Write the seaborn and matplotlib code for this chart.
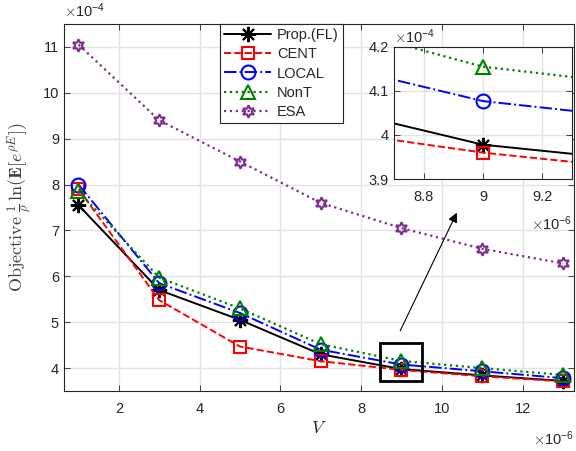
import matplotlib
matplotlib.use("Agg")
import matplotlib.pyplot as plt
import matplotlib.patches as patches
import seaborn as sns
import pandas as pd

# values (x in 1e-6, objective in 1e-4)
V = [1, 3, 5, 7, 9, 11, 13]
prop = [7.55, 5.70, 5.05, 4.30, 3.978, 3.84, 3.72]
cent = [7.90, 5.48, 4.47, 4.15, 3.96, 3.82, 3.71]
local = [8.00, 5.85, 5.20, 4.40, 4.077, 3.93, 3.78]
nont = [7.85, 5.97, 5.30, 4.52, 4.155, 4.00, 3.85]
esa = [11.05, 9.40, 8.50, 7.60, 7.05, 6.60, 6.28]

labels = ["Prop.(FL)", "CENT", "LOCAL", "NonT", "ESA"]
series = [prop, cent, local, nont, esa]
colors = ["black", "#FF0000", "#0000FF", "#008000", "#7E2F8E"]
markers = [(8, 2, 0), "s", "o", "^", (6, 1, 0)]
msizes = [11, 8, 10, 10, 9]
lstyles = ["-", "--", "-.", ":", ":"]

main_xticks = [2, 4, 6, 8, 10, 12]
main_yticks = [4, 5, 6, 7, 8, 9, 10, 11]
inset_xticks = [8.8, 9, 9.2]
inset_yticks = [3.9, 4, 4.1, 4.2]

sns.set_style("whitegrid")
plt.rcParams["font.family"] = ["Liberation Sans", "DejaVu Sans"]
plt.rcParams["mathtext.fontset"] = "cm"
plt.rcParams["xtick.direction"] = "in"
plt.rcParams["ytick.direction"] = "in"

txt = "#262626"
fig = plt.figure(figsize=(5.76, 4.51), dpi=100)
ax = fig.add_axes([0.111, 0.133, 0.886, 0.814])


def draw(a):
    for y, lab, c, m, ms, ls in zip(series, labels, colors, markers, msizes, lstyles):
        df = pd.DataFrame({"V": V, "obj": y})
        sns.lineplot(data=df, x="V", y="obj", ax=a, color=c, marker=m,
                     markersize=ms, linestyle=ls, linewidth=1.4 if ls != ":" else 1.6,
                     markerfacecolor="none", markeredgecolor=c,
                     markeredgewidth=1.5, label=lab)
    a.grid(True, color="#e3e3e3", linewidth=1.0)
    for s in a.spines.values():
        s.set_color(txt)
        s.set_linewidth(0.8)
    a.tick_params(colors=txt, labelsize=10.5, length=4, width=0.6,
                  top=True, right=True, left=True, bottom=True)
    a.tick_params(axis="x", pad=8)
    a.set_xlabel("")
    a.set_ylabel("")


draw(ax)
ax.set_xlim(0.64, 13.28)
ax.set_ylim(3.5, 11.5)
ax.set_xticks(main_xticks)
ax.set_yticks(main_yticks)
ax.set_xlabel("$V$", fontsize=13, color=txt, labelpad=3)
ax.set_ylabel(r"$\mathrm{Objective}\ \frac{1}{\rho}\,\ln(\mathbf{E}[e^{\rho E}])$",
              fontsize=13, color="#404040", labelpad=6)
ax.text(0.0, 1.01, r"$\times\mathregular{10^{-4}}$", transform=ax.transAxes,
        fontsize=10.5, color=txt, va="bottom", ha="left")
ax.text(1.0, -0.105, r"$\times\mathregular{10^{-6}}$", transform=ax.transAxes,
        fontsize=10.5, color=txt, va="top", ha="right")

ax.add_patch(patches.Rectangle((8.47, 3.72), 1.03, 0.82, fill=False,
                               edgecolor="black", linewidth=2, zorder=5))
ax.annotate("", xy=(10.4, 7.44), xytext=(8.94, 4.76),
            arrowprops=dict(arrowstyle="-|>", color="black", lw=0.8,
                            mutation_scale=14), zorder=5)

leg = ax.legend(loc="upper left", bbox_to_anchor=(220 / 576, 1 - 24 / 451),
                bbox_transform=fig.transFigure, fontsize=10.5, frameon=True,
                fancybox=False, framealpha=1, edgecolor=txt, borderaxespad=0,
                handlelength=3.2, labelspacing=0.35, borderpad=0.3,
                handletextpad=0.4)
leg.get_frame().set_linewidth(0.8)

ins = fig.add_axes([0.684, 0.603, 0.309, 0.293])
draw(ins)
ins.get_legend().remove()
ins.set_xlim(8.7, 9.3)
ins.set_ylim(3.9, 4.2)
ins.set_xticks(inset_xticks)
ins.set_xticklabels(["8.8", "9", "9.2"])
ins.set_yticks(inset_yticks)
ins.set_yticklabels(["3.9", "4", "4.1", "4.2"])
ins.text(0.0, 1.01, r"$\times\mathregular{10^{-4}}$", transform=ins.transAxes,
         fontsize=10.5, color=txt, va="bottom", ha="left")
ins.text(1.0, -0.27, r"$\times\mathregular{10^{-6}}$", transform=ins.transAxes,
         fontsize=10.5, color=txt, va="top", ha="right")

fig.savefig("out.png", dpi=100)
